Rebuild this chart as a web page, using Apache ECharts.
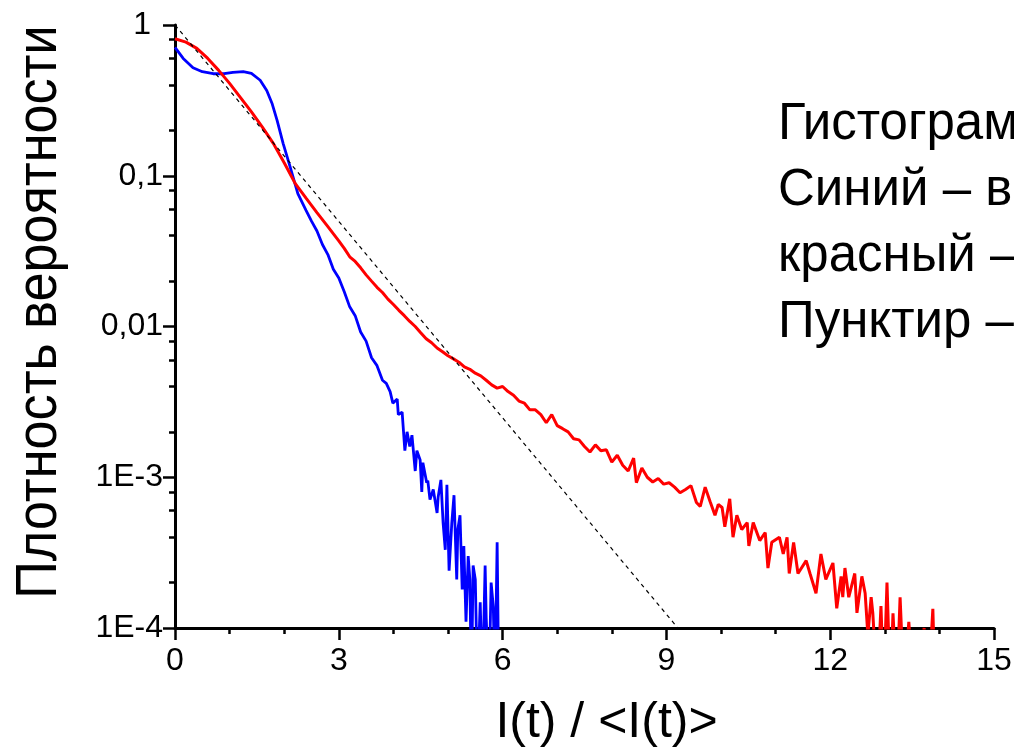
<!DOCTYPE html>
<html>
<head>
<meta charset="utf-8">
<script src="https://cdn.jsdelivr.net/npm/echarts@6/dist/echarts.min.js"></script>
<style>
html,body{margin:0;padding:0;background:#fff;}
#chart{width:1014px;height:751px;}
</style>
</head>
<body>
<div id="chart"></div>
<script>
// ---- data ----
const xTicks = [0, 3, 6, 9, 12, 15];
const yTickValues = [1e-4, 1e-3, 1e-2, 1e-1, 1];
const yTickLabels = ['1E-4', '1E-3', '0,01', '0,1', '1'];
const yMinorValues = [2e-4,4e-4,6e-4,8e-4, 2e-3,4e-3,6e-3,8e-3, 0.02,0.04,0.06,0.08, 0.2,0.4,0.6,0.8];

const redX = [0,0.2,0.4,0.6,0.8,1.0,1.2,1.4,1.6,1.8,2.0,2.2,2.4,2.6,2.8,3.0,3.1,3.2,3.3,3.4,3.5,3.6,3.7,3.8,3.9,4.0,4.1,4.2,4.3,4.4,4.5,4.6,4.7,4.8,4.9,5.0,5.1,5.2,5.3,5.4,5.5,5.6,5.7,5.8,5.9,6.0,6.1,6.2,6.3,6.4,6.5,6.6,6.7,6.8,6.9,7.0,7.1,7.2,7.3,7.4,7.5,7.6,7.7,7.8,7.9,8.0,8.1,8.2,8.3,8.4,8.45,8.55,8.65,8.75,8.85,8.95,9.05,9.15,9.25,9.35,9.45,9.55,9.62,9.71,9.8,9.89,9.95,10.02,10.07,10.16,10.22,10.29,10.38,10.48,10.51,10.59,10.71,10.81,10.86,10.93,11.07,11.14,11.21,11.25,11.33,11.41,11.56,11.63,11.74,11.83,11.92,12.05,12.12,12.2,12.23,12.27,12.34,12.45,12.49,12.58,12.64,12.69,12.75,12.78,12.86,12.93,12.98,13.04,13.1,13.15,13.22,13.28,13.35,13.44,13.52,13.62,13.72,13.8,13.88,13.92];
const redY = [0.81,0.77,0.70,0.60,0.50,0.41,0.33,0.265,0.21,0.164,0.122,0.089,0.071,0.057,0.046,0.037,0.033,0.029,0.027,0.0245,0.022,0.0200,0.0182,0.0168,0.0152,0.0140,0.0128,0.0118,0.0108,0.0100,0.0091,0.0083,0.0078,0.0072,0.0068,0.0064,0.0061,0.0058,0.0054,0.0052,0.0049,0.0047,0.0044,0.0041,0.0039,0.0040,0.0037,0.0035,0.0032,0.0031,0.0028,0.0028,0.0026,0.0023,0.0026,0.0022,0.0021,0.0020,0.0018,0.00177,0.0016,0.00147,0.00164,0.0015,0.00152,0.00126,0.0014,0.0012,0.0011,0.00134,0.00092,0.00115,0.0010,0.00093,0.00098,0.00090,0.00092,0.00086,0.00079,0.00083,0.00088,0.00068,0.00064,0.00086,0.00069,0.00056,0.00066,0.00063,0.00047,0.00072,0.0004,0.00056,0.00045,0.0005,0.00035,0.0005,0.00038,0.00043,0.00025,0.00037,0.0004,0.00031,0.0004,0.00023,0.00037,0.00023,0.00028,0.00023,0.00017,0.00031,0.00021,0.00027,0.000135,0.00022,0.00016,0.00025,0.00016,0.00023,0.000126,0.00022,0.00017,0.00009,0.00016,0.000126,0.00004,0.00014,0.00004,0.0002,0.00004,0.000125,0.00004,0.00016,0.00004,0.00011,0.00004,0.00004,0.0001,0.00004,0.000134,0.00004];

const blueX = [0,0.15,0.33,0.5,0.7,0.9,1.06,1.25,1.4,1.56,1.68,1.78,1.87,1.98,2.11,2.25,2.4,2.5,2.6,2.7,2.8,2.9,3.0,3.1,3.2,3.3,3.4,3.5,3.6,3.7,3.8,3.87,3.94,3.99,4.07,4.09,4.16,4.21,4.25,4.3,4.34,4.4,4.43,4.49,4.52,4.54,4.61,4.63,4.67,4.73,4.8,4.82,4.87,4.91,4.95,4.98,5.02,5.07,5.11,5.16,5.18,5.22,5.26,5.29,5.33,5.37,5.4,5.43,5.46,5.5,5.54,5.59,5.63,5.68,5.7,5.75,5.79,5.83,5.86,5.9,5.93];
const blueY = [0.71,0.60,0.52,0.49,0.475,0.475,0.485,0.49,0.477,0.43,0.368,0.30,0.233,0.164,0.114,0.076,0.059,0.050,0.043,0.035,0.030,0.024,0.021,0.017,0.0135,0.0118,0.0092,0.0080,0.0062,0.0055,0.0044,0.0042,0.0037,0.0031,0.0033,0.0026,0.0027,0.0015,0.0020,0.0016,0.0019,0.0011,0.0015,0.0013,0.0008,0.00125,0.00092,0.00095,0.00071,0.00083,0.00058,0.00074,0.00096,0.0005,0.00033,0.00089,0.00024,0.0005,0.00076,0.00021,0.00045,0.00056,0.00018,0.00035,0.00011,0.0003,0.00021,0.00004,0.00026,0.00021,0.00004,0.000148,0.00004,0.00026,0.000117,0.00004,0.0002,0.000138,0.00004,0.00037,0.00004];

const dashX = [0, 9.21];
const dashY = [1, 1e-4];

const textLines = ['Гистограм', 'Синий – в', 'красный –', 'Пунктир –'];
const xTitle = 'I(t) / <I(t)>';
const yTitle = 'Плотность вероятности';

// ---- chart ----
const FONT = '"Liberation Sans", Arial, sans-serif';
const zip = (xs, ys) => xs.map((x, i) => [x, ys[i]]);

const chart = echarts.init(document.getElementById('chart'), null, {renderer: 'canvas'});
const option = {
  backgroundColor: '#ffffff',
  animation: false,
  grid: {left: 175, right: 20, top: 25, bottom: 123, containLabel: false, outerBoundsMode: 'none'},
  xAxis: {
    type: 'value', min: 0, max: 15, interval: 3,
    name: xTitle, nameLocation: 'middle', nameGap: 70,
    nameTextStyle: {fontFamily: FONT, fontSize: 50, color: '#000', padding: [0, 0, 0, 44]},
    axisLine: {show: true, onZero: false, lineStyle: {color: '#000', width: 3}},
    axisTick: {show: true, inside: false, length: 12, lineStyle: {color: '#000', width: 2.5}},
    minorTick: {show: true, splitNumber: 3, length: 6, lineStyle: {color: '#000', width: 2.5}},
    axisLabel: {fontFamily: FONT, fontSize: 32, color: '#000', margin: 17,
      customValues: xTicks},
    splitLine: {show: false}, minorSplitLine: {show: false}
  },
  yAxis: [{
    type: 'log', logBase: 10, min: 1e-4, max: 1,
    axisLine: {show: true, lineStyle: {color: '#000', width: 3}},
    axisTick: {show: true, inside: false, length: 12, customValues: yTickValues, lineStyle: {color: '#000', width: 2.5}},
    axisLabel: {
      fontFamily: FONT, fontSize: 32, color: '#000', margin: 12,
      customValues: yTickValues,
      formatter: v => {
        const e = Math.round(Math.log10(v));
        const lab = yTickLabels[e + 4];
        return e === 0 ? '{top|' + lab + '}' : lab;
      },
      rich: {top: {fontFamily: FONT, fontSize: 32, color: '#000', padding: [0, 12, 0, 0]}}
    },
    splitLine: {show: false}
  }, {
    type: 'log', logBase: 10, min: 1e-4, max: 1, position: 'left',
    axisLine: {show: false},
    axisTick: {show: true, inside: false, length: 6, customValues: yMinorValues, lineStyle: {color: '#000', width: 2.5}},
    axisLabel: {show: false},
    splitLine: {show: false}
  }],
  series: [
    {type: 'line', name: 'blue', data: zip(blueX, blueY), yAxisIndex: 0, showSymbol: false, clip: true,
     lineStyle: {color: '#0000ff', width: 2.8}, itemStyle: {color: '#0000ff'}, z: 2},
    {type: 'line', name: 'red', data: zip(redX, redY), yAxisIndex: 0, showSymbol: false, clip: true,
     lineStyle: {color: '#ff0000', width: 3}, itemStyle: {color: '#ff0000'}, z: 3},
    {type: 'line', name: 'exp', data: zip(dashX, dashY), yAxisIndex: 0, showSymbol: false, clip: true,
     lineStyle: {color: '#000', width: 1.2, type: [4, 4]}, itemStyle: {color: '#000'}, z: 4}
  ],
  graphic: textLines.map((t, i) => ({
    type: 'text', left: 778, top: 99 + i * 66,
    style: {text: t, font: '51px "Liberation Sans", Arial, sans-serif', fill: '#000'}
  })).concat([{
    type: 'text', x: 40, y: 312, rotation: Math.PI / 2, scaleX: 0.9,
    style: {text: yTitle, font: '58px "Liberation Sans", Arial, sans-serif', fill: '#000',
      align: 'center', verticalAlign: 'middle'}
  }])
};
chart.setOption(option);
</script>
</body>
</html>
